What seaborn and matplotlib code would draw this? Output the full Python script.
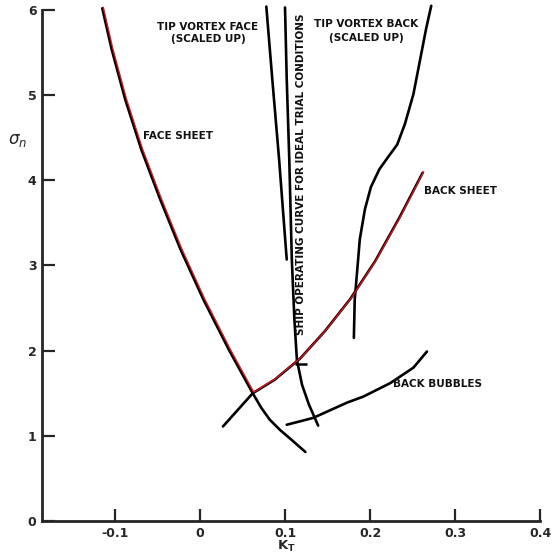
import numpy as np
import pandas as pd
import seaborn as sns
import matplotlib
matplotlib.use("Agg")
import matplotlib.pyplot as plt
import matplotlib.transforms as mtransforms

# face sheet (top -> vertex -> lower tail), KT / sigma_n
face_kt = [-0.115, -0.104, -0.088, -0.069, -0.047, -0.023, 0.004, 0.034, 0.062, 0.072, 0.082, 0.094, 0.108, 0.124]
face_sig = [6.02, 5.54, 4.95, 4.36, 3.78, 3.19, 2.60, 2.01, 1.50, 1.33, 1.19, 1.07, 0.95, 0.81]
# back sheet (lower-left -> vertex -> top)
back_kt = [0.027, 0.062, 0.088, 0.118, 0.147, 0.177, 0.206, 0.235, 0.262]
back_sig = [1.11, 1.50, 1.66, 1.91, 2.23, 2.61, 3.05, 3.57, 4.09]
# ship operating curve
ship_kt = [0.100, 0.102, 0.105, 0.108, 0.111, 0.114, 0.120, 0.128, 0.139]
ship_sig = [6.03, 5.19, 4.25, 3.07, 2.37, 1.89, 1.60, 1.37, 1.12]
# tip vortex face
tvf_kt = [0.078, 0.085, 0.093, 0.102]
tvf_sig = [6.04, 5.19, 4.25, 3.07]
# tip vortex back
tvb_kt = [0.272, 0.266, 0.259, 0.251, 0.241, 0.232, 0.221, 0.211, 0.201, 0.194, 0.188, 0.185, 0.182, 0.181]
tvb_sig = [6.05, 5.78, 5.42, 5.01, 4.66, 4.42, 4.27, 4.13, 3.92, 3.66, 3.31, 2.95, 2.60, 2.15]
# back bubbles
bub_kt = [0.102, 0.133, 0.173, 0.192, 0.224, 0.251, 0.267]
bub_sig = [1.13, 1.21, 1.39, 1.46, 1.62, 1.80, 1.99]
# operating point
op_kt = [0.119]
op_sig = [1.84]

x_ticks = [-0.1, 0, 0.1, 0.2, 0.3, 0.4]
x_labels = ['-0.1', '0', '0.1', '0.2', '0.3', '0.4']
y_ticks = [0, 1, 2, 3, 4, 5, 6]

sns.set_theme(style="ticks")
plt.rcParams['font.family'] = ['DejaVu Sans']

fig = plt.figure(figsize=(5.55, 5.53), dpi=100)
ax = fig.add_axes([0.0757, 0.0579, 0.8973, 0.924])

lw = 1.9
for kx, ky in [(face_kt, face_sig), (back_kt, back_sig), (ship_kt, ship_sig),
               (tvf_kt, tvf_sig), (tvb_kt, tvb_sig), (bub_kt, bub_sig)]:
    sns.lineplot(x=kx, y=ky, sort=False, estimator=None, color='black', lw=lw, ax=ax, clip_on=False)

# red envelope drawn slightly offset on top
iv = face_sig.index(1.50)
ib = back_sig.index(1.50)
red_x = face_kt[:iv + 1] + back_kt[ib + 1:]
red_y = face_sig[:iv + 1] + back_sig[ib + 1:]
off = mtransforms.offset_copy(ax.transData, fig=fig, x=0.8, y=0.8, units='points')
ax.plot(red_x, red_y, color='#e8141c', lw=0.9, transform=off, clip_on=False, zorder=5)

ax.plot(op_kt, op_sig, marker='_', ms=8, mew=1.8, color='black', ls='none')

ax.set_xlim(-0.1859, 0.4)
ax.set_ylim(0, 6)
sns.despine(ax=ax)
for s in ['left', 'bottom']:
    ax.spines[s].set_linewidth(2.0)
ax.set_xticks(x_ticks)
ax.set_xticklabels(x_labels)
ax.set_yticks(y_ticks)
ax.tick_params(direction='in', length=9, width=1.6, labelsize=9, pad=4)
for lab in ax.get_xticklabels() + ax.get_yticklabels():
    lab.set_fontweight('bold')

ax.set_xlabel(r'$\mathbf{K_T}$', fontsize=9.5)
ax.xaxis.set_label_coords(0.49, -0.035)
ax.set_ylabel(r'$\sigma_n$', fontsize=12, rotation=0)
ax.yaxis.set_label_coords(-0.05, 0.728)

fs = 7.5
tkw = dict(fontsize=fs, fontweight='bold', color='#111111')
ax.text(0.0094, 5.80, 'TIP VORTEX FACE', ha='center', va='center', **tkw)
ax.text(0.0094, 5.66, '(SCALED UP)', ha='center', va='center', **tkw)
ax.text(0.1953, 5.84, 'TIP VORTEX BACK', ha='center', va='center', **tkw)
ax.text(0.1953, 5.67, '(SCALED UP)', ha='center', va='center', **tkw)
ax.text(-0.067, 4.52, 'FACE SHEET', ha='left', va='center', **tkw)
ax.text(0.264, 3.88, 'BACK SHEET', ha='left', va='center', **tkw)
ax.text(0.227, 1.61, 'BACK BUBBLES', ha='left', va='center', **tkw)
ax.text(0.119, 4.07, 'SHIP OPERATING CURVE FOR IDEAL TRIAL CONDITIONS',
        rotation=90, ha='center', va='center', **tkw)

fig.savefig('out.png', dpi=100)
